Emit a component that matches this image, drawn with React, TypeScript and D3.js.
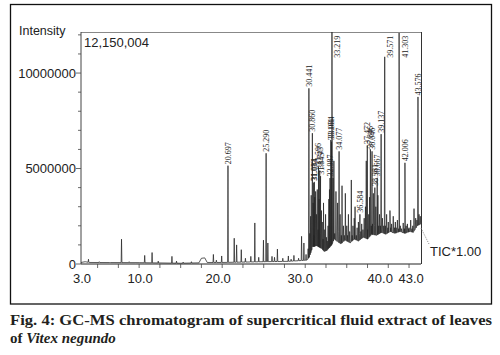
import React from 'react';
import * as d3 from 'd3';

const W = 500;
const H = 355;

// Retention time (min) / intensity (millions of counts)
const baselineTimes = [3, 3.5, 4, 10, 15, 17.2, 17.5, 17.9, 18.2, 20, 25, 28, 30.2, 30.5, 30.9, 31.4, 32.0, 32.3, 32.6, 32.9, 33.2, 33.5, 33.8, 34.3, 34.8, 35.4, 35.9, 36.4, 37.0, 37.5, 38.0, 38.6, 39.2, 39.7, 40.2, 40.8, 41.4, 42.0, 42.6, 43.0, 43.5, 43.94];
const baselineLevels = [0.08, 0.12, 0.08, 0.07, 0.04, 0.06, 0.3, 0.32, 0.08, 0.08, 0.12, 0.14, 0.2, 0.35, 0.9, 0.95, 0.8, 0.65, 0.7, 0.85, 1.0, 1.3, 1.2, 1.05, 1.25, 1.1, 1.3, 1.2, 1.4, 1.3, 1.55, 1.5, 1.65, 1.55, 1.7, 1.6, 1.7, 1.6, 1.7, 1.65, 2.0, 2.1];

const peakTimes = [
  3.9, 5.2, 6.5, 7.88, 8.8, 9.6, 10.67, 11.56, 12.3, 13.95, 14.5, 15.3, 16.3, 18.94, 19.3, 19.94,
  21.45, 21.74, 22.3, 22.8, 23.45, 23.93, 24.4, 24.97, 25.5, 26.0, 26.3, 26.65, 27.3, 27.97, 28.3, 28.64,
  29.2, 29.56, 29.84, 30.1,
  30.35, 30.55, 30.65, 30.72, 30.95, 31.05, 31.15, 31.25, 31.35, 31.45, 31.55, 31.67, 31.8, 31.95, 32.05,
  32.15, 32.2, 32.35, 32.45, 32.55, 32.65, 32.75, 32.85, 32.92, 33.1, 33.35, 33.45, 33.55, 33.7, 33.9,
  34.05, 34.2, 34.35, 34.43, 34.6, 34.7, 34.83, 35.0, 35.1, 35.2, 35.35, 35.55, 35.65, 35.75, 35.9, 36.0,
  36.15, 36.25, 36.4, 36.55, 36.7, 36.8, 36.95, 37.1, 37.25, 37.35, 37.5, 37.65, 37.75, 37.95, 38.1,
  38.2, 38.35, 38.5, 38.75, 38.85, 38.95, 39.05, 39.3, 39.45, 39.65, 39.8, 39.95, 40.0, 40.2, 40.3,
  40.4, 40.6, 40.75, 40.85, 40.95, 41.1, 41.25, 41.45, 41.6, 41.8, 41.95, 42.15, 42.3, 42.45, 42.5,
  42.7, 42.85, 42.95, 43.1, 43.3, 43.45, 43.7, 43.85
];
const peakTops = [
  0.25, 0.12, 0.1, 1.3, 0.12, 0.1, 0.45, 0.6, 0.15, 0.4, 0.15, 0.1, 0.12, 0.5, 0.2, 0.42,
  1.35, 1.0, 0.75, 0.3, 0.4, 2.15, 0.35, 1.25, 1.1, 0.4, 0.35, 0.78, 0.3, 0.42, 0.25, 0.45,
  0.3, 1.45, 1.1, 0.5,
  0.8, 1.6, 2.5, 3.6, 3.2, 1.5, 3.5, 3.8, 2.6, 3.9, 1.8, 3.4, 1.6, 2.8, 2.2,
  1.3, 3.2, 1.8, 2.6, 1.4, 1.2, 2.0, 3.4, 3.9, 1.6, 4.5, 5.4, 1.6, 3.8, 3.2,
  1.7, 2.6, 1.5, 4.1, 2.0, 1.5, 3.7, 2.0, 1.5, 2.6, 1.7, 4.4, 1.5, 2.0, 2.4, 3.0,
  1.5, 1.9, 2.2, 1.6, 1.7, 2.1, 1.8, 2.4, 3.0, 5.4, 1.8, 2.6, 3.5, 2.0, 2.1,
  3.7, 2.0, 3.0, 3.6, 2.0, 2.6, 2.0, 2.4, 2.0, 2.0, 2.6, 1.9, 2.2, 2.8, 1.9,
  2.1, 2.5, 1.9, 2.2, 1.9, 2.3, 1.85, 2.0, 1.85, 2.15, 1.85, 2.0, 2.1, 1.85, 1.9,
  2.3, 1.85, 2.0, 2.9, 2.4, 2.3, 2.6, 2.5
];

const labeledTimes = [20.697, 25.290, 30.441, 30.860, 31.033, 31.084, 31.596, 31.745, 31.845, 32.987, 33.084, 33.161, 33.219, 34.077, 36.584, 37.472, 37.846, 38.046, 38.381, 38.667, 39.137, 39.571, 41.303, 42.006, 43.576];
const labeledTops = [5.15, 5.8, 9.2, 6.85, 4.25, 4.3, 5.1, 4.9, 4.6, 4.5, 6.5, 6.4, 12.15, 5.9, 2.6, 6.2, 6.0, 5.9, 4.0, 4.5, 6.8, 10.85, 12.1, 5.3, 8.75];
const labeledTexts = ['20.697', '25.290', '30.441', '30.860', '31.033', '31.084', '31.596', '31.745', '31.845', '32.987', '33.084', '33.161', '33.219', '34.077', '36.584', '37.472', '37.846', '38.046', '38.381', '38.667', '39.137', '39.571', '41.303', '42.006', '43.576'];

const yTickValues = [0, 5, 10];
const yTickLabels = ['0', '5000000', '10000000'];
const xTickValues = [3, 10, 20, 30, 40, 43];
const xTickLabels = ['3.0', '10.0', '20.0', '30.0', '40.0', '43.0'];
const yTitle = 'Intensity';
const maxLabel = '12,150,004';
const ticLabel = 'TIC*1.00';
const captionLine1 = 'Fig. 4: GC-MS chromatogram of supercritical fluid extract of leaves';
const captionLine2a = 'of ';
const captionLine2b = 'Vitex negundo';

// style: horizontal nudges of the printed tick labels (px)
const xTickLabelNudge = [1, 1, -4, -5, -8, -2];

const X_MIN = 3;
const X_MAX = 43.94;
const Y_MAX = 12.15;

export default function App() {
  const x = d3.scaleLinear().domain([X_MIN, X_MAX]).range([81, 421]);
  const y = d3.scaleLinear().domain([0, Y_MAX]).range([264, 32]);
  const base = d3.scaleLinear().domain(baselineTimes).range(baselineLevels).clamp(true);

  const w = 0.045;
  const pts: [number, number][] = baselineTimes.map((t, i) => [t, baselineLevels[i]]);
  const addPeak = (t: number, top: number, hw: number) => {
    pts.push([t - hw, base(t - hw)]);
    pts.push([t, Math.max(top, base(t))]);
    pts.push([t + hw, base(t + hw)]);
  };
  peakTimes.forEach((t, i) => addPeak(t, peakTops[i], w));
  labeledTimes.forEach((t, i) => addPeak(t, labeledTops[i], w));
  pts.sort((a, b) => a[0] - b[0]);
  const clipped = pts.filter((p) => p[0] >= X_MIN && p[0] <= X_MAX);
  const line = d3.line<[number, number]>()
    .x((d) => x(d[0]))
    .y((d) => y(Math.min(d[1], Y_MAX)));
  const tracePath = line(clipped) || '';

  const minorY = d3.range(0, 13, 1);
  const minorX = d3.range(5, 43, 2.5);
  const sans = 'Liberation Sans, Arial, sans-serif';
  const serif = 'Liberation Serif, Times New Roman, serif';

  return (
    <svg width={W} height={H} style={{ position: 'absolute', left: 0, top: 0, background: '#fff' }}>
      <rect x={0} y={0} width={W} height={H} fill="#fff" />
      <rect x={10.5} y={4.5} width={481} height={299.5} fill="none" stroke="#111" strokeWidth={1.3} />

      {/* plot frame */}
      <line x1={81} x2={421} y1={32.5} y2={32.5} stroke="#888" strokeWidth={1} />
      <line x1={421.5} x2={421.5} y1={32} y2={264} stroke="#333" strokeWidth={1} />
      <line x1={81} x2={81} y1={32} y2={264} stroke="#444" strokeWidth={1} />
      <line x1={81} x2={421} y1={264} y2={264} stroke="#222" strokeWidth={1} />

      {/* y ticks */}
      {minorY.map((v) => (
        <line key={'my' + v} x1={yTickValues.includes(v) ? 76 : 78} x2={81} y1={y(v)} y2={y(v)} stroke="#444" strokeWidth={0.8} />
      ))}
      {yTickValues.map((v, i) => (
        <text key={'yl' + v} x={76} y={y(v)} dy="0.35em" textAnchor="end" fontFamily={sans} fontSize={13} fill="#222">
          {yTickLabels[i]}
        </text>
      ))}

      {/* x ticks */}
      {minorX.map((v) => (
        <line key={'mx' + v} x1={x(v)} x2={x(v)} y1={264} y2={268} stroke="#444" strokeWidth={0.8} />
      ))}
      {xTickValues.map((v, i) => (
        <text key={'xl' + v} x={x(v) + xTickLabelNudge[i]} y={283} textAnchor="middle" fontFamily={sans} fontSize={13} fill="#222">
          {xTickLabels[i]}
        </text>
      ))}

      <text x={19} y={35} fontFamily={sans} fontSize={12.5} fill="#222">{yTitle}</text>
      <text x={84} y={47} fontFamily={sans} fontSize={13} fill="#222">{maxLabel}</text>

      {/* trace */}
      <path d={tracePath} fill="none" stroke="#262626" strokeWidth={0.75} strokeLinejoin="round" />

      {/* peak labels */}
      {labeledTimes.map((t, i) => {
        const top = labeledTops[i];
        const atTop = top > 10.5;
        const tx = atTop ? x(t) + 8.5 : x(t) + 3;
        const ty = atTop ? y(10.8) : y(top) - 1.5;
        return (
          <text key={'pl' + i} transform={`translate(${tx},${ty}) rotate(-90)`} fontFamily={serif} fontSize={8} fill="#222">
            {labeledTexts[i]}
          </text>
        );
      })}

      {/* TIC label */}
      <line x1={421} y1={228} x2={429} y2={244} stroke="#777" strokeWidth={0.8} strokeDasharray="1.2,1.2" />
      <text x={430} y={256} fontFamily={sans} fontSize={13} fill="#222">{ticLabel}</text>

      {/* caption */}
      <text x={10} y={325} fontFamily={serif} fontWeight="bold" fontSize={15} fill="#231f20" textLength={482} lengthAdjust="spacingAndGlyphs">
        {captionLine1}
      </text>
      <text x={10} y={343} fontFamily={serif} fontWeight="bold" fontSize={15} fill="#231f20">
        {captionLine2a}
        <tspan fontStyle="italic">{captionLine2b}</tspan>
      </text>
    </svg>
  );
}
